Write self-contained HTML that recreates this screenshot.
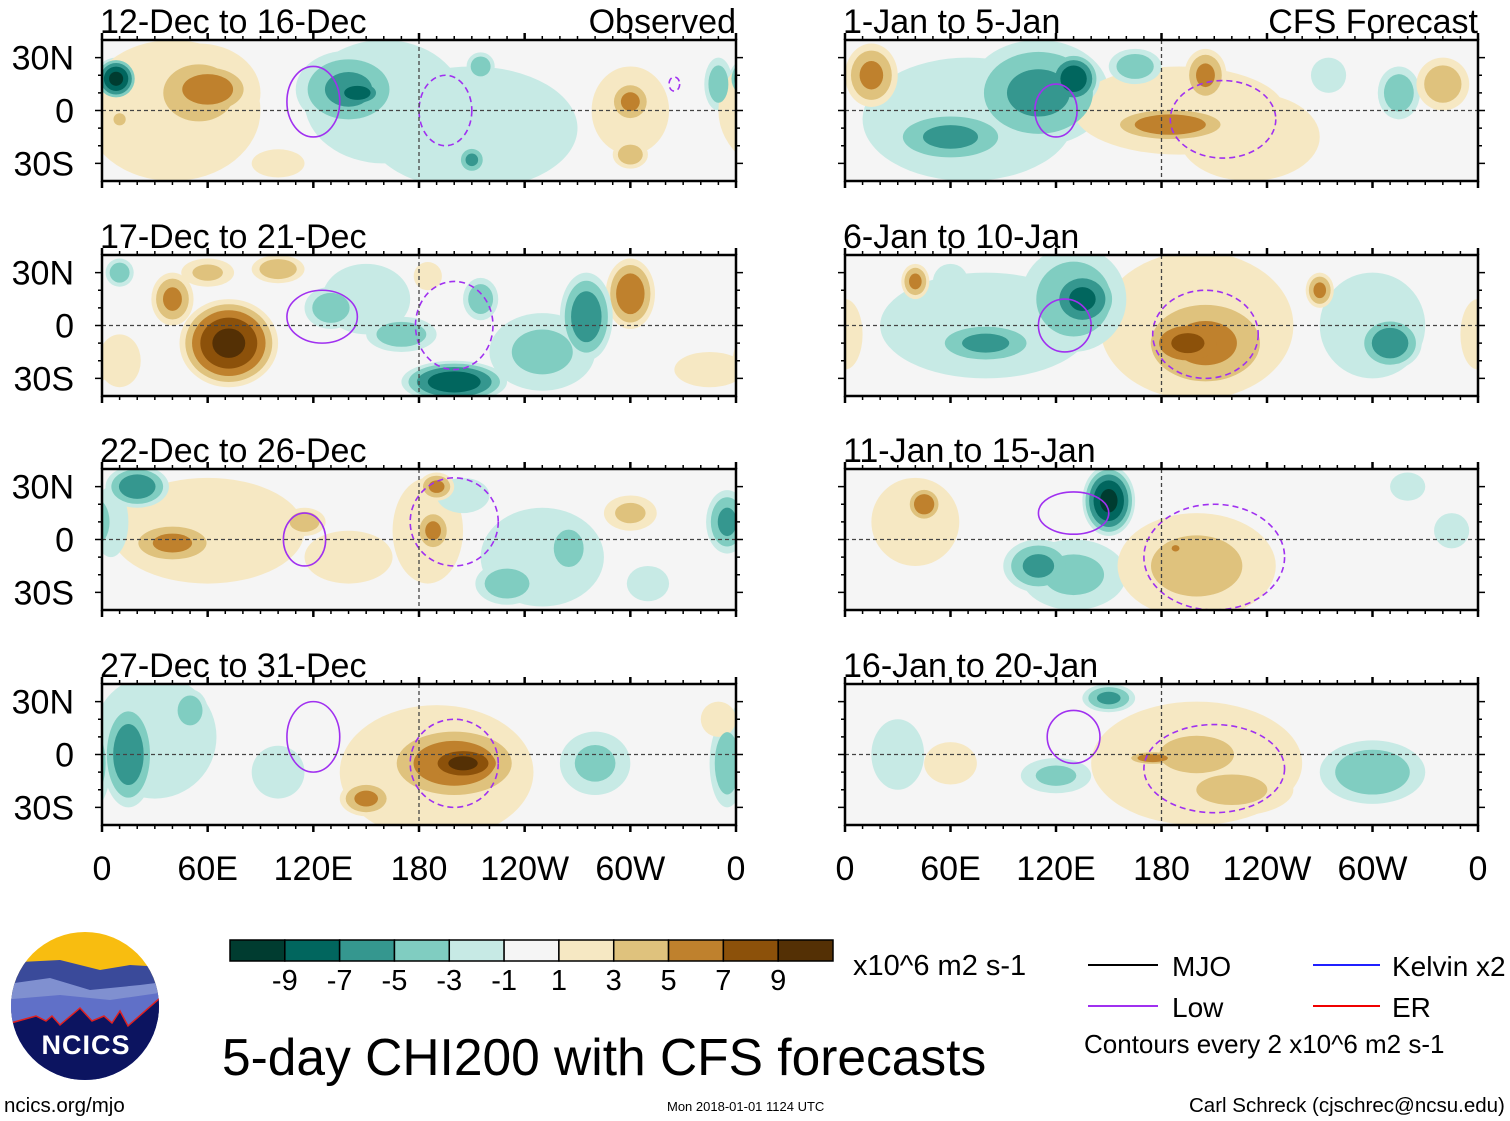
<!DOCTYPE html>
<html><head><meta charset="utf-8">
<style>
body{margin:0;background:#fff;}
svg{display:block;font-family:"Liberation Sans",sans-serif;}
</style></head>
<body>
<svg id="fig" width="1510" height="1121" viewBox="0 0 1510 1121" xmlns="http://www.w3.org/2000/svg">
<defs id="defs"></defs>
<g id="panels"></g>
<g id="colorbar"></g>
<text x="853" y="975" font-size="29">x10^6 m2 s-1</text>
<g>
<line x1="1088" y1="965" x2="1158" y2="965" stroke="#000" stroke-width="2"/>
<text x="1172" y="976" font-size="28">MJO</text>
<line x1="1313" y1="965" x2="1380" y2="965" stroke="#2020ff" stroke-width="2"/>
<text x="1392" y="976" font-size="28">Kelvin x2</text>
<line x1="1088" y1="1006" x2="1158" y2="1006" stroke="#a030f0" stroke-width="2"/>
<text x="1172" y="1017" font-size="28">Low</text>
<line x1="1313" y1="1006" x2="1380" y2="1006" stroke="#f00000" stroke-width="2"/>
<text x="1392" y="1017" font-size="28">ER</text>
<text x="1084" y="1053" font-size="26">Contours every 2 x10^6 m2 s-1</text>
</g>
<text x="222" y="1075" font-size="51.5">5-day CHI200 with CFS forecasts</text>
<text x="667" y="1111" font-size="13">Mon 2018-01-01 1124 UTC</text>
<text x="1189" y="1112" font-size="20.5">Carl Schreck (cjschrec@ncsu.edu)</text>
<text x="4" y="1112" font-size="20.5">ncics.org/mjo</text>
<g>
<clipPath id="logoclip"><circle cx="85" cy="1006" r="74"/></clipPath>
<g clip-path="url(#logoclip)">
<rect x="0" y="920" width="180" height="180" fill="#f8bd10"/>
<path d="M0 963 L60 960 L100 970 L130 965 L180 968 L180 1100 L0 1100Z" fill="#3a4a9a"/>
<path d="M0 985 L50 978 L90 990 L140 985 L180 980 L180 1100 L0 1100Z" fill="#8090d0"/>
<path d="M0 1000 L60 995 L110 1000 L180 990 L180 1100 L0 1100Z" fill="#6070c8"/>
<path d="M0 1026 L36 1016 L46 1021 L52 1016 L60 1025 L80 1008 L92 1021 L104 1016 L112 1023 L120 1011 L128 1026 L160 998 L180 990 L180 1100 L0 1100Z" fill="#0c1460" stroke="#e02020" stroke-width="1.5"/>
</g>
<text x="86" y="1054" font-size="27" font-weight="bold" fill="#fff" text-anchor="middle" letter-spacing="1">NCICS</text>
</g>
</svg>
<script>
const NS="http://www.w3.org/2000/svg";
const panelTitles=["12-Dec to 16-Dec","17-Dec to 21-Dec","22-Dec to 26-Dec","27-Dec to 31-Dec","1-Jan to 5-Jan","6-Jan to 10-Jan","11-Jan to 15-Jan","16-Jan to 20-Jan"];
const levelColors=["#003c30","#01665e","#35978f","#80cdc1","#c7eae5","#f5f5f5","#f6e8c3","#dfc27d","#bf812d","#8c510a","#543005"];
const levelLabels=["-9","-7","-5","-3","-1","1","3","5","7","9"];
const lonTicks=[0,60,120,180,240,300,360];
const lonLabels=["0","60E","120E","180","120W","60W","0"];
const latTicks=[30,0,-30];
const latLabels=["30N","0","30S"];
// blobs: [lon, lat, rxDeg, ryDeg, value]
const blobs0=[[210,-10,60,35,-2],[160,5,45,35,-3],[140,12,30,22,-6],[145,10,15,8,-9],[8,18,12,12,-10],[215,25,8,8,-5],[210,-28,8,8,-6],[350,15,8,15,-5],[245,-25,10,10,-3],[40,0,50,40,2],[55,10,35,28,4],[60,12,25,15,7],[10,-5,6,6,4],[300,0,22,25,3],[300,5,12,12,6],[300,-25,10,8,5],[100,-30,15,8,2]];
const blobs1=[[150,15,25,20,-3],[250,-15,30,22,-4],[72,-10,28,25,10],[40,15,12,15,6],[60,30,15,8,4],[100,32,15,8,5],[185,28,8,8,3],[300,18,14,20,7],[10,-20,12,15,2],[345,-25,20,10,3],[10,30,8,8,-5],[130,10,15,12,-5],[170,-5,20,10,-5],[200,-32,30,12,-9],[215,15,10,12,-5],[275,5,15,25,-7]];
const blobs2=[[60,5,55,30,3],[185,5,20,30,3],[250,-10,35,28,-3],[20,30,18,12,-7],[5,10,10,20,-3],[265,-5,12,15,-5],[230,-25,18,12,-5],[355,10,12,18,-6],[205,25,15,10,-2],[310,-25,12,10,-3],[40,-2,25,12,6],[190,30,10,8,6],[188,5,10,12,6],[115,10,12,8,5],[140,-10,25,15,3],[300,15,15,10,4]];
const blobs3=[[30,10,35,35,-3],[190,-10,55,38,3],[15,0,15,30,-7],[50,25,10,12,-5],[355,-5,10,25,-5],[280,-5,20,18,-4],[100,-10,15,15,-2],[200,-5,40,22,7],[205,-5,25,12,10],[150,-25,15,10,6],[350,20,10,10,3]];
const blobs4=[[70,-5,60,35,-3],[110,10,40,30,-6],[190,0,60,25,3],[230,-15,40,25,2],[130,18,15,15,-9],[60,-15,35,15,-6],[165,25,15,10,-5],[315,10,12,15,-5],[275,20,10,10,-3],[15,20,15,18,6],[185,-8,35,10,7],[205,20,12,15,6],[340,15,15,15,5]];
const blobs5=[[80,0,60,30,-3],[300,0,30,30,-3],[200,0,55,42,3],[130,15,30,30,-5],[135,15,20,18,-8],[80,-10,30,12,-6],[310,-10,18,15,-7],[60,25,10,10,-2],[205,-10,40,28,6],[195,-10,25,15,8],[40,25,8,10,6],[270,20,8,10,6],[0,-5,10,20,2]];
const blobs6=[[130,-20,30,20,-4],[40,10,25,25,3],[200,-15,45,30,4],[150,22,15,20,-10],[110,-15,20,15,-6],[45,20,10,10,7],[188,-5,5,4,6],[320,30,10,8,-2],[345,5,10,10,-2]];
const blobs7=[[200,-5,60,35,1.5],[200,0,30,15,5],[220,-20,35,15,4],[175,-2,15,4,7],[300,-10,30,18,-5],[150,32,15,8,-6],[120,-12,20,10,-4],[30,0,15,20,-2],[60,-5,15,12,2]];
const allBlobs=[blobs0,blobs1,blobs2,blobs3,blobs4,blobs5,blobs6,blobs7];
// Low contours: [lon, lat, rx, ry, dashed(1/0)]
const lows=[[[120,5,15,20,0],[195,0,15,20,1],[325,15,3,4,1]],[[125,5,20,15,0],[200,0,22,25,1]],[[115,0,12,15,0],[200,10,25,25,1]],[[120,10,15,20,0],[200,-5,25,25,1]],[[120,0,12,15,0],[215,-5,30,22,1]],[[125,0,15,15,0],[205,-5,30,25,1]],[[130,15,20,12,0],[210,-10,40,30,1]],[[130,10,15,15,0],[210,-8,40,25,1]]];

const cols=[[102,736],[845,1478]];
const rowsY=[40,255,469,684];
const PH=141;
function mk(tag,attrs,parent){const e=document.createElementNS(NS,tag);for(const k in attrs)e.setAttribute(k,attrs[k]);if(parent)parent.appendChild(e);return e;}
function colorFor(t,sign){const idx=[1,3,5,7,9].indexOf(t);return sign>0?levelColors[6+idx]:levelColors[4-idx];}
const panelsG=document.getElementById('panels');
const defs=document.getElementById('defs');
for(let p=0;p<8;p++){
  const c=cols[p<4?0:1], y0=rowsY[p%4];
  const x0=c[0], x1=c[1], W=x1-x0;
  const xs=lon=>x0+lon/360*W;
  const ys=lat=>y0+PH/2-lat/40*(PH/2);
  const g=mk('g',{},panelsG);
  
  
  const cp=mk('clipPath',{id:'cp'+p},defs);mk('rect',{x:x0,y:y0,width:W,height:PH},cp);
  mk('rect',{x:x0,y:y0,width:W,height:PH,fill:'#f5f5f5'},g);
  const field=mk('g',{'clip-path':'url(#cp'+p+')'},g);
  const bl=allBlobs[p];
  for(const t of [1,3,5,7,9]){
    for(const b of bl){
      const v=b[4],av=Math.abs(v);
      if(av<=t)continue;
      const sc=Math.sqrt((av-t)/Math.max(av-1,0.01))*(t===1?1:1);
      const s=t===1?1:sc;
      for(const off of [-360,0,360]){
        const e=mk('ellipse',{cx:xs(b[0]+off),cy:ys(b[1]),rx:b[2]*s/360*W,ry:b[3]*s/40*(PH/2),fill:colorFor(t,Math.sign(v))},field);
        
        
      }
    }
  }
  for(const l of lows[p]){
    const e=mk('ellipse',{cx:xs(l[0]),cy:ys(l[1]),rx:l[2]/360*W,ry:l[3]/40*(PH/2),fill:'none',stroke:'#a030f0','stroke-width':1.6,'stroke-dasharray':l[4]?'6 4':'none'},field);
    
    
  }
  mk('line',{x1:x0,y1:ys(0),x2:x1,y2:ys(0),stroke:'#444','stroke-width':1.3,'stroke-dasharray':'4 3'},g);
  mk('line',{x1:xs(180),y1:y0,x2:xs(180),y2:y0+PH,stroke:'#444','stroke-width':1.3,'stroke-dasharray':'4 3'},g);
  mk('rect',{x:x0,y:y0,width:W,height:PH,fill:'none',stroke:'#000','stroke-width':2.5},g);
  for(let lon=0;lon<=360;lon+=10){
    const len=lon%60===0?7:4;
    mk('line',{x1:xs(lon),y1:y0,x2:xs(lon),y2:y0-len,stroke:'#000','stroke-width':lon%60===0?2.5:1.5},g);
    mk('line',{x1:xs(lon),y1:y0+PH,x2:xs(lon),y2:y0+PH+len,stroke:'#000','stroke-width':lon%60===0?2.5:1.5},g);
  }
  for(let lat=-30;lat<=30;lat+=10){
    const len=lat%30===0?7:4;
    mk('line',{x1:x0,y1:ys(lat),x2:x0-len,y2:ys(lat),stroke:'#000','stroke-width':1.5},g);
    mk('line',{x1:x1,y1:ys(lat),x2:x1+len,y2:ys(lat),stroke:'#000','stroke-width':1.5},g);
  }
  const tt=mk('text',{x:x0-2,y:y0-7,'font-size':34},g);tt.textContent=panelTitles[p];
  
  
  if(p%4===0){
    const st=mk('text',{x:x1,y:y0-7,'font-size':34,'text-anchor':'end'},g);st.textContent=p===0?'Observed':'CFS Forecast';
    
    
  }
  if(p<4){
    latTicks.forEach((lt,i)=>{const t=mk('text',{x:74,y:ys(lt)+12,'font-size':34,'text-anchor':'end'},g);t.textContent=latLabels[i];
      
      });
  }
  if(p%4===3){
    lonTicks.forEach((ln,i)=>{const t=mk('text',{x:xs(ln),y:880,'font-size':34,'text-anchor':'middle'},g);t.textContent=lonLabels[i];
      
      });
  }
}
const cb=document.getElementById('colorbar');
const cbX=230,cbW=603,cbY=940,cbH=21,bw=cbW/11;
levelColors.forEach((c,i)=>{const r=mk('rect',{x:cbX+i*bw,y:cbY,width:bw,height:cbH,fill:c,stroke:'#000','stroke-width':1.5},cb);
  
  });
levelLabels.forEach((l,i)=>{const t=mk('text',{x:cbX+(i+1)*bw,y:990,'font-size':29,'text-anchor':'middle'},cb);t.textContent=l;
  
  });
</script>
</body></html>
